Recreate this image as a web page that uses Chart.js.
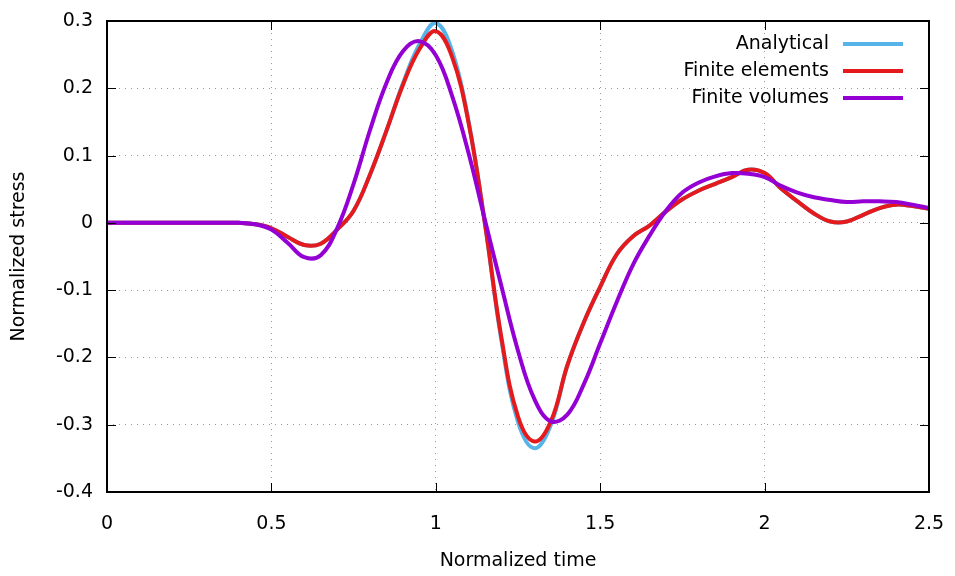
<!DOCTYPE html>
<html>
<head>
<meta charset="utf-8">
<script src="https://cdn.jsdelivr.net/npm/chart.js@4.4.1/dist/chart.umd.min.js"></script>
<style>
html,body{margin:0;padding:0;background:#fff;}
#wrap{width:955px;height:576px;position:relative;}
</style>
</head>
<body>
<div id="wrap"><canvas id="chart"></canvas></div>
<script>
// normalized time samples (shared by every series)
const timeValues=[0,0.05,0.1,0.15,0.2,0.25,0.3,0.35,0.4,0.45,0.5,0.55,0.6,0.65,0.7,0.75,0.8,0.85,0.9,0.95,1.0,1.05,1.1,1.15,1.2,1.25,1.3,1.35,1.4,1.45,1.5,1.55,1.6,1.65,1.7,1.75,1.8,1.85,1.9,1.95,2.0,2.05,2.1,2.15,2.2,2.25,2.3,2.35,2.4,2.45,2.5]

const analytical=[0,0,0,0,0,0,0,0,0,-0.002,-0.008,-0.021,-0.033,-0.031,-0.010,0.018,0.072,0.137,0.207,0.265,0.297,0.255,0.150,-0.003,-0.176,-0.296,-0.335,-0.300,-0.212,-0.148,-0.095,-0.047,-0.020,-0.004,0.017,0.035,0.048,0.058,0.068,0.079,0.074,0.051,0.032,0.014,0.002,0.002,0.012,0.022,0.027,0.025,0.021]

const finiteElements=[0,0,0,0,0,0,0,0,0,-0.002,-0.008,-0.021,-0.033,-0.031,-0.010,0.018,0.072,0.137,0.205,0.258,0.285,0.246,0.148,-0.003,-0.172,-0.288,-0.325,-0.295,-0.212,-0.148,-0.095,-0.047,-0.020,-0.004,0.017,0.035,0.048,0.058,0.068,0.079,0.074,0.051,0.032,0.014,0.002,0.002,0.012,0.022,0.027,0.025,0.021]

const finiteVolumes=[0,0,0,0,0,0,0,0,0,-0.002,-0.010,-0.030,-0.051,-0.048,-0.008,0.058,0.138,0.208,0.255,0.270,0.249,0.188,0.103,0.003,-0.095,-0.190,-0.262,-0.295,-0.285,-0.240,-0.179,-0.118,-0.062,-0.019,0.018,0.045,0.060,0.069,0.074,0.073,0.068,0.055,0.045,0.038,0.034,0.031,0.032,0.032,0.031,0.027,0.022]

const xTicks=[0,0.5,1,1.5,2,2.5]
const xTickLabels=['0','0.5','1','1.5','2','2.5']
const yTicks=[-0.4,-0.3,-0.2,-0.1,0,0.1,0.2,0.3]
const yTickLabels=['-0.4','-0.3','-0.2','-0.1','0','0.1','0.2','0.3']

const seriesNames=['Analytical','Finite elements','Finite volumes']
const seriesColors=['#56b4e9','#e41a1c','#9400d3']

const FONT='"DejaVu Sans", Verdana, sans-serif'

function toPoints(vals){
return timeValues.map((t,i)=>({x:t,y:vals[i]}))
}

// gnuplot style frame with inward ticks on all four sides
const framePlugin={
id:'frame',
afterDatasetsDraw(chart){
const {ctx,chartArea:a,scales}=chart
ctx.save()
ctx.strokeStyle='#000'
ctx.lineWidth=1
ctx.beginPath()
xTicks.forEach(v=>{
const px=Math.round(scales.x.getPixelForValue(v))+0.5
ctx.moveTo(px,a.bottom);ctx.lineTo(px,a.bottom-9)
ctx.moveTo(px,a.top);ctx.lineTo(px,a.top+9)
})
yTicks.forEach(v=>{
const py=Math.round(scales.y.getPixelForValue(v))+0.5
ctx.moveTo(a.left,py);ctx.lineTo(a.left+9,py)
ctx.moveTo(a.right,py);ctx.lineTo(a.right-9,py)
})
ctx.stroke()
ctx.lineWidth=2
ctx.strokeRect(a.left,a.top,a.right-a.left,a.bottom-a.top)
ctx.restore()
}
}

// key: text right aligned, line sample on its right
const keyPlugin={
id:'key',
afterDraw(chart){
const ctx=chart.ctx
ctx.save()
ctx.font='19px '+FONT
ctx.textAlign='right'
ctx.textBaseline='middle'
seriesNames.forEach((name,i)=>{
const y=44+i*27
ctx.fillStyle='#000'
ctx.fillText(name,829,y)
ctx.strokeStyle=seriesColors[i]
ctx.lineWidth=4
ctx.beginPath()
ctx.moveTo(843,y);ctx.lineTo(903,y)
ctx.stroke()
})
ctx.restore()
}
}

const lineStyle={borderWidth:4,pointRadius:0,tension:0.4,fill:false}

new Chart(document.getElementById('chart'),{
type:'line',
data:{
datasets:[
{label:seriesNames[0],data:toPoints(analytical),borderColor:seriesColors[0],order:2,...lineStyle},
{label:seriesNames[1],data:toPoints(finiteElements),borderColor:seriesColors[1],order:1,...lineStyle},
{label:seriesNames[2],data:toPoints(finiteVolumes),borderColor:seriesColors[2],order:0,...lineStyle}
]
},
options:{
responsive:true,
maintainAspectRatio:false,
animation:false,
devicePixelRatio:1,
layout:{padding:{top:21,right:26,left:0,bottom:0}},
plugins:{legend:{display:false},tooltip:{enabled:false}},
scales:{
x:{
type:'linear',
min:0,max:2.5,
afterBuildTicks(s){s.ticks=xTicks.map(v=>({value:v}))},
afterFit(s){s.height=84;s.paddingLeft=0;s.paddingRight=0},
border:{display:false,dash:[1,5]},
grid:{color:'#9a9a9a',lineWidth:1,drawTicks:false},
ticks:{color:'#000',font:{family:FONT,size:19},padding:21,maxRotation:0,
callback(v){return xTickLabels[xTicks.indexOf(v)]}},
title:{display:true,text:'Normalized time',color:'#000',font:{family:FONT,size:19},padding:{top:0,bottom:4}}
},
y:{
type:'linear',
min:-0.4,max:0.3,
afterBuildTicks(s){s.ticks=yTicks.map(v=>({value:v}))},
afterFit(s){s.width=107;s.paddingTop=0;s.paddingBottom=0},
border:{display:false,dash:[1,5]},
grid:{color:'#9a9a9a',lineWidth:1,drawTicks:false},
ticks:{color:'#000',font:{family:FONT,size:19},padding:14,
callback(v){const i=yTicks.findIndex(t=>Math.abs(t-v)<1e-9);return i<0?'':yTickLabels[i]}},
title:{display:true,text:'Normalized stress',color:'#000',font:{family:FONT,size:19},padding:{top:8,bottom:0}}
}
}
},
plugins:[framePlugin,keyPlugin]
})
</script>
</body>
</html>
